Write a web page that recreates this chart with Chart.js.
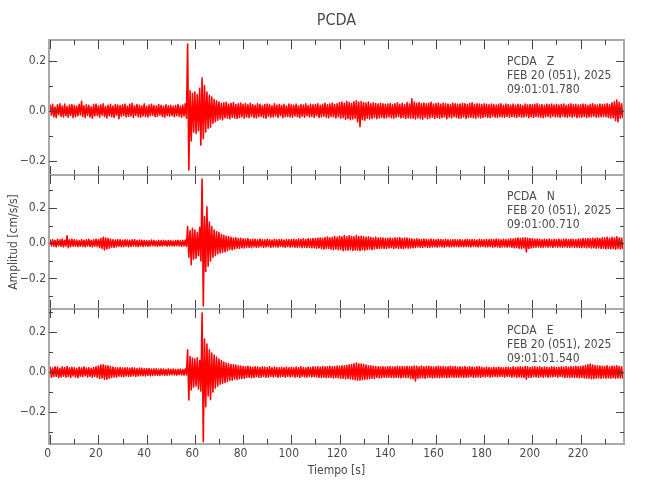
<!DOCTYPE html>
<html>
<head>
<meta charset="utf-8">
<script src="https://cdn.jsdelivr.net/npm/chart.js@4.4.1/dist/chart.umd.min.js"></script>
<style>
  html, body { margin: 0; padding: 0; background: #ffffff; }
  #wrap { position: relative; width: 650px; height: 500px; }
  #wrap canvas { position: absolute; left: 0; top: 0; }
</style>
</head>
<body>
<div id="wrap">
  <canvas id="cz" width="650" height="500"></canvas>
  <canvas id="cn" width="650" height="500"></canvas>
  <canvas id="ce" width="650" height="500"></canvas>
</div>
<script>
// ---- data (cm/s/s), one sample every 0.5 s starting at t = 0 s ----
const startTime = 0;
const timeStep = 0.5;

const zValues = [
  .022,-.018,.026,-.024,.015,-.027,.024,-.016,.028,-.022,.019,-.025,.027,-.02,.017,-.026,.023,-.019,.025,-.028,
  .021,-.024,.018,-.02,.026,-.017,.038,-.023,.02,-.027,.024,-.018,.022,-.025,.016,-.03,.025,-.021,.027,-.019,
  .02,-.026,.024,-.018,.028,-.023,.017,-.029,.022,-.02,.026,-.024,.019,-.027,.025,-.018,.023,-.032,.021,-.022,
  .024,-.019,.027,-.025,.018,-.022,.026,-.021,.03,-.027,.02,-.018,.025,-.024,.022,-.026,.019,-.021,.028,-.023,
  .017,-.025,.023,-.02,.026,-.018,.021,-.024,.019,-.022,.025,-.017,.022,-.023,.018,-.026,.024,-.019,.02,-.022,
  .022,-.019,.018,-.024,.021,-.02,.025,-.022,.019,-.026,.023,-.021,.028,-.03,.266,-.236,.08,-.12,.07,-.085,
  .075,-.09,.065,-.08,.09,-.137,.13,-.11,.1,-.085,.075,-.07,.062,-.066,.055,-.05,.045,-.044,.04,-.038,
  .035,-.033,.03,-.036,.032,-.028,.034,-.03,.027,-.032,.03,-.026,.033,-.029,.025,-.031,.028,-.027,.031,-.024,
  .026,-.03,.029,-.025,.024,-.028,.03,-.022,.025,-.027,.022,-.029,.028,-.024,.026,-.023,.021,-.027,.025,-.03,
  .027,-.022,.024,-.026,.02,-.025,.028,-.021,.023,-.027,.025,-.02,.022,-.028,.026,-.024,.019,-.023,.027,-.025,
  .024,-.026,.022,-.021,.027,-.024,.02,-.028,.025,-.022,.023,-.026,.028,-.02,.021,-.025,.026,-.023,.024,-.027,
  .025,-.02,.028,-.027,.022,-.024,.026,-.022,.03,-.026,.024,-.028,.027,-.023,.031,-.025,.025,-.029,.028,-.024,
  .032,-.03,.035,-.028,.03,-.034,.038,-.031,.033,-.036,.029,-.033,.036,-.03,.04,-.045,.034,-.064,.037,-.035,
  .033,-.038,.031,-.03,.035,-.033,.028,-.031,.032,-.027,.029,-.032,.027,-.029,.03,-.026,.028,-.03,.026,-.028,
  .027,-.025,.029,-.028,.024,-.03,.028,-.026,.032,-.024,.026,-.029,.03,-.027,.025,-.031,.033,-.028,.027,-.03,
  .048,-.03,.035,-.033,.03,-.028,.033,-.031,.029,-.034,.031,-.027,.028,-.032,.03,-.029,.034,-.026,.027,-.031,
  .029,-.027,.031,-.03,.026,-.028,.03,-.025,.028,-.032,.027,-.026,.025,-.029,.03,-.024,.028,-.027,.026,-.03,
  .027,-.029,.03,-.025,.028,-.031,.025,-.027,.029,-.026,.032,-.028,.026,-.03,.028,-.025,.027,-.029,.025,-.027,
  .028,-.024,.026,-.027,.024,-.028,.027,-.023,.025,-.026,.023,-.027,.026,-.024,.028,-.025,.022,-.026,.027,-.023,
  .025,-.026,.023,-.024,.027,-.025,.022,-.027,.026,-.023,.024,-.026,.021,-.025,.027,-.022,.024,-.028,.025,-.024,
  .024,-.027,.026,-.023,.028,-.025,.023,-.026,.025,-.028,.022,-.024,.026,-.023,.024,-.027,.027,-.022,.023,-.025,
  .026,-.024,.023,-.027,.025,-.022,.027,-.025,.022,-.026,.025,-.023,.028,-.026,.024,-.022,.026,-.028,.023,-.025,
  .024,-.026,.027,-.023,.025,-.027,.022,-.025,.026,-.024,.028,-.022,.024,-.026,.023,-.025,.027,-.024,.025,-.023,
  .026,-.024,.028,-.027,.025,-.03,.032,-.028,.036,-.04,.043,-.044,.034,-.03,.028,-.026
];

const nValues = [
  .018,-.015,.021,-.017,.016,-.02,.022,-.014,.019,-.018,.024,-.021,.017,-.016,.042,-.025,.02,-.019,.023,-.017,
  .02,-.016,.018,-.019,.015,-.017,.021,-.018,.017,-.02,.019,-.015,.022,-.018,.016,-.021,.02,-.017,.023,-.019,
  .021,-.024,.027,-.029,.034,-.038,.03,-.032,.026,-.028,.024,-.022,.02,-.023,.018,-.02,.021,-.017,.019,-.02,
  .017,-.019,.02,-.016,.018,-.02,.016,-.018,.019,-.015,.021,-.017,.015,-.019,.018,-.016,.017,-.018,.016,-.015,
  .015,-.017,.014,-.016,.018,-.014,.016,-.015,.013,-.017,.016,-.014,.015,-.016,.017,-.013,.014,-.016,.015,-.014,
  .016,-.014,.013,-.016,.015,-.013,.017,-.015,.014,-.018,.016,-.015,.018,-.017,.095,-.08,.07,-.122,.085,-.09,
  .075,-.085,.06,-.07,.09,-.1,.364,-.356,.15,-.16,.206,-.13,.12,-.1,.095,-.08,.075,-.07,.065,-.06,
  .06,-.055,.05,-.052,.045,-.048,.04,-.042,.038,-.035,.033,-.036,.03,-.032,.031,-.028,.027,-.03,.028,-.025,
  .025,-.027,.024,-.022,.026,-.023,.021,-.025,.023,-.02,.022,-.024,.02,-.022,.024,-.019,.021,-.023,.019,-.021,
  .022,-.019,.02,-.023,.018,-.021,.023,-.02,.019,-.022,.021,-.018,.022,-.02,.018,-.023,.021,-.019,.02,-.022,
  .021,-.02,.023,-.022,.02,-.024,.024,-.021,.022,-.025,.025,-.022,.021,-.024,.026,-.023,.024,-.026,.027,-.025,
  .026,-.028,.029,-.026,.03,-.031,.028,-.033,.032,-.03,.035,-.029,.031,-.034,.033,-.036,.038,-.032,.034,-.037,
  .04,-.035,.036,-.042,.044,-.038,.037,-.04,.042,-.036,.039,-.041,.036,-.038,.043,-.04,.038,-.042,.04,-.037,
  .036,-.039,.034,-.035,.037,-.033,.032,-.036,.03,-.032,.034,-.03,.029,-.031,.031,-.028,.03,-.03,.027,-.029,
  .028,-.027,.03,-.025,.026,-.029,.031,-.027,.029,-.03,.032,-.028,.027,-.031,.03,-.026,.029,-.028,.026,-.027,
  .024,-.025,.022,-.024,.025,-.021,.023,-.024,.021,-.023,.024,-.02,.022,-.023,.02,-.022,.023,-.021,.021,-.02,
  .02,-.022,.023,-.019,.021,-.02,.019,-.022,.022,-.018,.02,-.021,.018,-.02,.021,-.019,.02,-.018,.019,-.021,
  .021,-.019,.018,-.02,.02,-.018,.022,-.02,.019,-.021,.021,-.018,.02,-.019,.018,-.021,.022,-.019,.02,-.018,
  .019,-.021,.022,-.02,.02,-.019,.023,-.022,.021,-.02,.024,-.021,.022,-.023,.02,-.021,.023,-.02,.021,-.022,
  .022,-.02,.025,-.023,.024,-.026,.027,-.024,.03,-.028,.026,-.03,.029,-.027,.031,-.05,.028,-.029,.026,-.027,
  .025,-.024,.023,-.022,.024,-.021,.022,-.023,.02,-.022,.023,-.02,.021,-.022,.024,-.021,.02,-.023,.022,-.02,
  .021,-.022,.023,-.021,.02,-.023,.022,-.02,.024,-.022,.021,-.023,.023,-.021,.022,-.024,.02,-.022,.024,-.023,
  .023,-.025,.026,-.022,.024,-.026,.027,-.024,.025,-.027,.028,-.025,.026,-.028,.03,-.026,.027,-.029,.031,-.028,
  .029,-.032,.034,-.03,.028,-.031,.033,-.029,.03,-.034,.036,-.03,.031,-.032,.029,-.03
];

const eValues = [
  .024,-.026,.02,-.022,.027,-.021,.025,-.028,.019,-.024,.026,-.02,.023,-.025,.028,-.022,.021,-.027,.024,-.019,
  .022,-.025,.018,-.028,.024,-.02,.021,-.023,.026,-.018,.02,-.024,.022,-.021,.019,-.025,.023,-.02,.027,-.026,
  .03,-.032,.035,-.029,.037,-.035,.033,-.036,.031,-.03,.028,-.027,.025,-.024,.022,-.025,.021,-.02,.023,-.022,
  .02,-.023,.022,-.019,.021,-.022,.019,-.02,.022,-.018,.02,-.021,.018,-.019,.02,-.017,.019,-.018,.017,-.019,
  .018,-.016,.017,-.018,.015,-.017,.016,-.015,.017,-.016,.014,-.016,.016,-.014,.015,-.016,.013,-.015,.016,-.014,
  .014,-.013,.015,-.014,.013,-.015,.014,-.012,.015,-.014,.013,-.015,.016,-.014,.112,-.139,.078,-.089,.07,-.075,
  .065,-.07,.072,-.085,.058,-.095,.296,-.349,.166,-.173,.14,-.12,.112,-.138,.095,-.1,.085,-.08,.075,-.07,
  .065,-.06,.058,-.055,.05,-.052,.045,-.047,.042,-.04,.038,-.041,.036,-.034,.035,-.037,.032,-.033,.03,-.031,
  .028,-.03,.027,-.026,.029,-.025,.026,-.028,.024,-.027,.027,-.023,.025,-.026,.023,-.025,.026,-.022,.024,-.025,
  .023,-.025,.026,-.022,.022,-.024,.025,-.021,.023,-.026,.021,-.023,.024,-.022,.022,-.025,.025,-.021,.021,-.024,
  .024,-.022,.021,-.025,.025,-.023,.022,-.026,.026,-.021,.023,-.024,.021,-.025,.025,-.022,.023,-.024,.026,-.023,
  .025,-.024,.027,-.026,.024,-.027,.028,-.025,.026,-.028,.027,-.026,.029,-.027,.026,-.029,.028,-.027,.03,-.028,
  .029,-.031,.032,-.03,.031,-.033,.034,-.032,.036,-.034,.038,-.036,.041,-.038,.045,-.04,.042,-.039,.04,-.037,
  .038,-.036,.035,-.034,.032,-.033,.031,-.03,.029,-.031,.028,-.027,.027,-.029,.026,-.028,.027,-.025,.025,-.027,
  .026,-.025,.028,-.027,.025,-.028,.027,-.026,.029,-.027,.026,-.029,.028,-.026,.027,-.028,.029,-.027,.026,-.03,
  .028,-.033,.03,-.044,.029,-.031,.027,-.029,.03,-.028,.026,-.03,.028,-.027,.029,-.026,.027,-.029,.025,-.028,
  .027,-.026,.029,-.028,.026,-.027,.028,-.025,.025,-.028,.027,-.026,.029,-.024,.026,-.027,.028,-.025,.024,-.027,
  .026,-.024,.025,-.027,.028,-.025,.024,-.026,.027,-.023,.025,-.026,.023,-.025,.026,-.024,.027,-.026,.024,-.023,
  .022,-.024,.025,-.021,.023,-.025,.021,-.023,.024,-.022,.022,-.024,.025,-.021,.023,-.022,.021,-.024,.024,-.022,
  .024,-.022,.022,-.025,.026,-.023,.023,-.026,.025,-.024,.027,-.025,.024,-.027,.028,-.035,.026,-.025,.023,-.026,
  .025,-.023,.027,-.024,.024,-.026,.026,-.023,.023,-.025,.025,-.022,.024,-.026,.022,-.024,.026,-.023,.025,-.022,
  .023,-.025,.024,-.022,.026,-.024,.025,-.027,.027,-.025,.024,-.026,.028,-.025,.026,-.027,.029,-.026,.027,-.028,
  .028,-.027,.03,-.029,.033,-.03,.036,-.031,.04,-.033,.035,-.032,.033,-.03,.031,-.029,.03,-.031,.029,-.028,
  .028,-.03,.031,-.029,.027,-.03,.03,-.028,.029,-.031,.032,-.029,.028,-.03,.027,-.029
];

const zInfo = ['PCDA   Z', 'FEB 20 (051), 2025', '09:01:01.780'];
const nInfo = ['PCDA   N', 'FEB 20 (051), 2025', '09:01:00.710'];
const eInfo = ['PCDA   E', 'FEB 20 (051), 2025', '09:01:01.540'];

const chartTitle = 'PCDA';
const xAxisTitle = 'Tiempo [s]';
const yAxisTitle = 'Amplitud [cm/s/s]';

// ---- rendering ----
const FONT = '"Liberation Sans Narrow", "DejaVu Sans Condensed", "DejaVu Sans", sans-serif';
const TEXT = '#4a4a4a';
Chart.defaults.font.family = FONT;
Chart.defaults.color = TEXT;

function toPoints(values) {
  return values.map((v, i) => ({ x: startTime + i * timeStep, y: v }));
}

function fmtY(v) {
  const a = Math.abs(v) < 1e-9 ? 0 : v;
  return (a < 0 ? '\u2212' : '') + Math.abs(a).toFixed(1);
}

const framePlugin = {
  id: 'seisFrame',
  afterDatasetsDraw(chart, args, opts) {
    const { ctx, chartArea: { left, right, top, bottom }, scales: { x, y } } = chart;
    ctx.save();
    ctx.strokeStyle = '#a9a9a9';
    ctx.lineWidth = 2;
    ctx.strokeRect(left, top, right - left, bottom - top);
    ctx.strokeStyle = '#444';
    ctx.lineWidth = 1;
    ctx.beginPath();
    for (let k = 0; k * 10 <= x.max; k++) {
      const px = Math.round(x.getPixelForValue(k * 10)) + 0.5;
      const len = k % 2 === 0 ? 9 : 5;
      ctx.moveTo(px, top); ctx.lineTo(px, top + len);
      ctx.moveTo(px, bottom); ctx.lineTo(px, bottom - len);
    }
    for (let k = Math.ceil(y.min / 0.1 - 1e-6); k * 0.1 <= y.max + 1e-9; k++) {
      const py = Math.round(y.getPixelForValue(k * 0.1)) + 0.5;
      const len = k % 2 === 0 ? 8 : 4;
      ctx.moveTo(left, py); ctx.lineTo(left + len, py);
      ctx.moveTo(right, py); ctx.lineTo(right - len, py);
    }
    ctx.stroke();
    ctx.fillStyle = TEXT;
    ctx.font = '12px ' + FONT;
    ctx.textBaseline = 'middle';
    ctx.textAlign = 'left';
    (opts.lines || []).forEach((s, i) => ctx.fillText(s, 507, top + 21.5 + i * 14.2));
    ctx.restore();
  }
};

function makePanel(id, values, info, yMin, yMax, cfg) {
  return new Chart(document.getElementById(id), {
    type: 'line',
    data: {
      datasets: [{
        data: toPoints(values),
        borderColor: '#ff0000',
        borderWidth: 1.6,
        borderJoinStyle: 'round',
        borderCapStyle: 'round',
        pointRadius: 0,
        tension: 0,
        fill: false
      }]
    },
    options: {
      responsive: false,
      animation: false,
      events: [],
      parsing: false,
      normalized: true,
      layout: { padding: { left: 0, right: 26, top: cfg.padTop, bottom: cfg.padBottom } },
      plugins: {
        legend: { display: false },
        tooltip: { enabled: false },
        title: cfg.title ? {
          display: true, text: chartTitle, fullSize: false, color: TEXT,
          font: { size: 16, weight: 'normal', family: FONT },
          padding: { top: 11.5, bottom: 9.3 }
        } : { display: false },
        seisFrame: { lines: info }
      },
      scales: {
        x: {
          type: 'linear', min: -0.5, max: 238,
          display: !!cfg.xAxis,
          grid: { display: false, drawTicks: false },
          border: { display: false },
          ticks: {
            stepSize: 20, includeBounds: false, autoSkip: false, maxRotation: 0,
            padding: 2.5, labelOffset: -2.5, color: TEXT,
            font: { size: 12, family: FONT }
          },
          title: {
            display: !!cfg.xAxis, text: xAxisTitle, color: TEXT,
            font: { size: 12, family: FONT },
            padding: { top: 0, bottom: 21.5 }
          },
          afterFit(s) { if (cfg.xAxis) s.height = 56; }
        },
        y: {
          type: 'linear', min: yMin, max: yMax,
          grid: { display: false, drawTicks: false },
          border: { display: false },
          ticks: {
            stepSize: 0.2, includeBounds: false, autoSkip: false,
            padding: 3, color: TEXT, font: { size: 12, family: FONT },
            callback: (v) => fmtY(v)
          },
          title: {
            display: !!cfg.yTitle, text: yAxisTitle, color: TEXT,
            font: { size: 12, family: FONT },
            padding: { top: 7, bottom: 0 }
          },
          afterFit(s) { s.width = 49; }
        }
      }
    },
    plugins: [framePlugin]
  });
}

makePanel('cz', zValues, zInfo, -0.256, 0.282, { padTop: 0, padBottom: 325, title: true });
makePanel('cn', nValues, nInfo, -0.373, 0.387, { padTop: 175, padBottom: 191, yTitle: true });
makePanel('ce', eValues, eInfo, -0.36, 0.316, { padTop: 309, padBottom: 0, xAxis: true });
</script>
</body>
</html>
